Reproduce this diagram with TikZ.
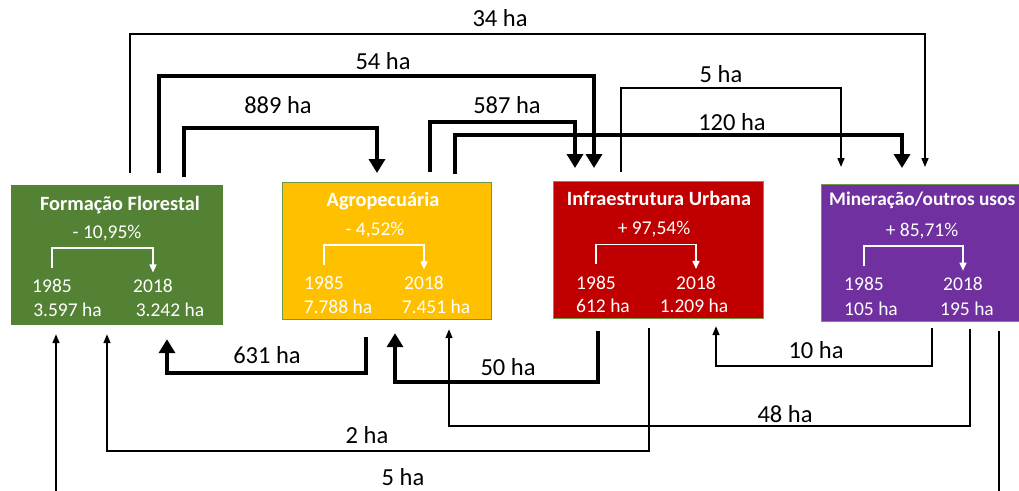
\documentclass[tikz,border=0pt]{standalone}
\usepackage{fontspec}
\setmainfont{Carlito}
\usetikzlibrary{arrows.meta}
\definecolor{ffg}{HTML}{548235}
\definecolor{agy}{HTML}{FFC000}
\definecolor{iur}{HTML}{C00000}
\definecolor{mip}{HTML}{7030A0}
\definecolor{boxedge}{HTML}{6F9A45}
\begin{document}
\begin{tikzpicture}[x=1pt,y=-1pt,
  box/.style={draw=boxedge, line width=1.2pt, inner sep=0pt, anchor=north west},
  flowlbl/.style={font=\fontsize{24.5}{28}\selectfont, anchor=base, inner sep=0pt},
  boxtxt/.style={text=white, font=\fontsize{19.5}{23}\selectfont, anchor=base, inner sep=0pt},
  boxtitle/.style={text=white, font=\bfseries\fontsize{20.3}{24}\selectfont, anchor=base, inner sep=0pt},
  thickflow/.style={line width=4.3pt, -{Triangle[width=16pt,length=14pt]}},
  thinflow/.style={line width=1.5pt, -{Triangle[width=7pt,length=9pt]}},
  wflow/.style={white, line width=1.5pt, -{Triangle[width=7pt,length=8pt]}}
]
\useasboundingbox (0,0) rectangle (1019,490);
\clip (0,0) rectangle (1019,490);

% boxes
\node[box, draw=ffg, fill=ffg, minimum width=211pt, minimum height=139pt] (ff) at (11,185) {};
\node[box, fill=agy, minimum width=209pt, minimum height=137pt] (ag) at (282,182) {};
\node[box, fill=iur, minimum width=210pt, minimum height=137pt] (iu) at (553,181) {};
\node[box, fill=mip, minimum width=210pt, minimum height=137pt] (mi) at (821,184) {};

% Formação Florestal
\node[boxtitle] (ffT) at (120,210.7) {Formação Florestal};
\node[boxtxt] (ffP) at (107,238.3) {- 10,95\%};
\node[boxtxt] (ffa) at (52,292.5) {1985};
\node[boxtxt] (ffb) at (153,292.5) {2018};
\node[boxtxt] (ffc) at (67.5,316.5) {3.597 ha};
\node[boxtxt] (ffd) at (170,316.5) {3.242 ha};
\draw[wflow] ([yshift=11pt]ffa.north) -- ++(0,-20) -| ([yshift=6.5pt]ffb.north);

% Agropecuária
\node[boxtitle] (agT) at (383,206) {Agropecuária};
\node[boxtxt] (agP) at (375,235) {- 4,52\%};
\node[boxtxt] (aga) at (324,289.3) {1985};
\node[boxtxt] (agb) at (424,289.3) {2018};
\node[boxtxt] (agc) at (338,313.3) {7.788 ha};
\node[boxtxt] (agd) at (436,313.3) {7.451 ha};
\draw[wflow] ([yshift=11pt]aga.north) -- ++(0,-20) -| ([yshift=6.5pt]agb.north);

% Infraestrutura Urbana
\node[boxtitle] (iuT) at (659,205.7) {Infraestrutura Urbana};
\node[boxtxt] (iuP) at (654,234) {+ 97,54\%};
\node[boxtxt] (iua) at (596,289) {1985};
\node[boxtxt] (iub) at (696,289) {2018};
\node[boxtxt] (iuc) at (603,312.7) {612 ha};
\node[boxtxt] (iud) at (694,312.7) {1.209 ha};
\draw[wflow] ([yshift=11pt]iua.north) -- ++(0,-20) -| ([yshift=6.5pt]iub.north);

% Mineração/outros usos
\node[boxtitle, anchor=base west, font=\bfseries\fontsize{19.3}{23}\selectfont] (miT) at (829,205) {Mineração/outros usos};
\node[boxtxt] (miP) at (922,236.7) {+ 85,71\%};
\node[boxtxt] (mia) at (864,290.7) {1985};
\node[boxtxt] (mib) at (963,290.7) {2018};
\node[boxtxt] (mic) at (871,315) {105 ha};
\node[boxtxt] (mid) at (967,315) {195 ha};
\draw[wflow] ([yshift=11pt]mia.north) -- ++(0,-20) -| ([yshift=6.5pt]mib.north);

% top flows
\draw[thinflow, shorten <=12pt, shorten >=17pt] (ff.north -| 130,0) |- (925,34) -- (mi.north -| 925,0);
\draw[thickflow, shorten <=12pt, shorten >=13pt] (ff.north -| 159,0) |- (594,76) -- (iu.north -| 594,0);
\draw[thickflow, shorten <=8pt, shorten >=9pt] (ff.north -| 184,0) |- (377,128) -- (ag.north -| 377,0);
\draw[thickflow, shorten <=10pt, shorten >=13pt] (ag.north -| 430,0) |- (575,122) -- (iu.north -| 575,0);
\draw[thickflow, line width=3.8pt, shorten <=8pt, shorten >=16pt] (ag.north -| 455,0) |- (902,135) -- (mi.north -| 902,0);
\draw[thinflow, shorten <=9pt, shorten >=17pt] (iu.north -| 621,0) |- (841,88) -- (mi.north -| 841,0);

% bottom flows
\draw[thickflow, shorten <=17pt, shorten >=14pt] (ag.south -| 366,0) |- (167,373) -- (ff.south -| 167,0);
\draw[thickflow, shorten <=12pt, shorten >=13pt] (iu.south -| 598,0) |- (395,382) -- (ag.south -| 395,0);
\draw[thinflow, shorten <=7pt, shorten >=9pt] (mi.south -| 970,0) |- (449,426) -- (ag.south -| 449,0);
\draw[thinflow, shorten <=6pt, shorten >=7pt] (mi.south -| 932,0) |- (716,366) -- (iu.south -| 716,0);
\draw[thinflow, shorten <=9pt, shorten >=9pt] (iu.south -| 649,0) |- (107,451) -- (ff.south -| 107,0);
\draw[thinflow, shorten <=9pt, shorten >=9pt] (mi.south -| 999,0) |- (56,505) -- (ff.south -| 56,0);

% flow labels
\node[flowlbl] (l34) at (500,26) {34 ha};
\node[flowlbl] (l54) at (383,69) {54 ha};
\node[flowlbl] (l889) at (278,113) {889 ha};
\node[flowlbl] (l587) at (507,113) {587 ha};
\node[flowlbl] (l5a) at (721,82) {5 ha};
\node[flowlbl] (l120) at (732,130) {120 ha};
\node[flowlbl] (l631) at (267,363) {631 ha};
\node[flowlbl] (l50) at (508,375) {50 ha};
\node[flowlbl] (l10) at (816,358) {10 ha};
\node[flowlbl] (l48) at (785,422) {48 ha};
\node[flowlbl] (l2) at (367,443) {2 ha};
\node[flowlbl] (l5b) at (403,485) {5 ha};
\end{tikzpicture}
\end{document}
